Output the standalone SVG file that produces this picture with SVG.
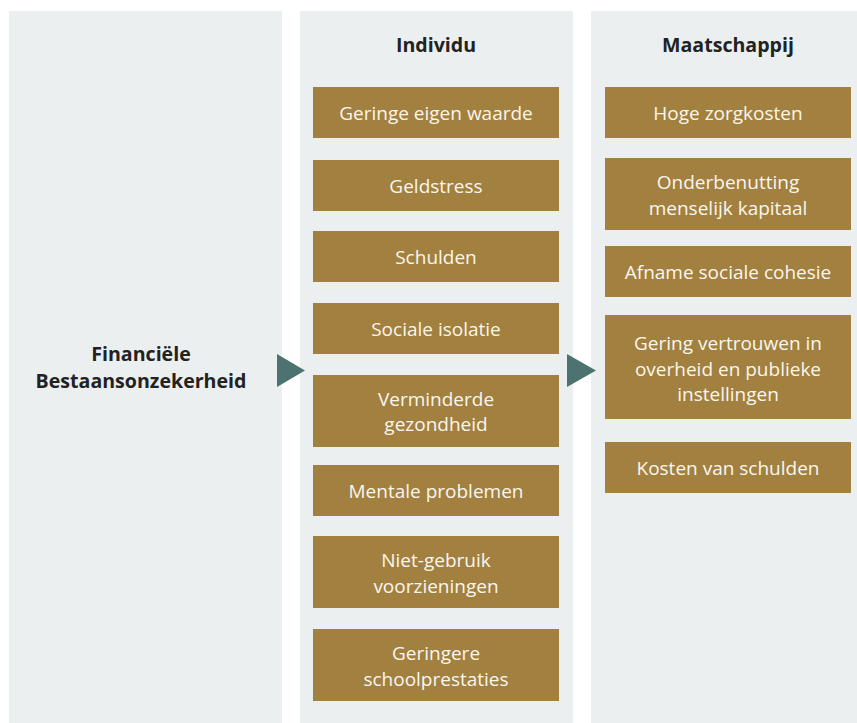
<svg xmlns="http://www.w3.org/2000/svg" width="857" height="723" viewBox="0 0 857 723">
<style>
.panel{fill:#EBEFF0}
.box{fill:#A2803F}
.lbl{font-family:"Open Sans","Noto Sans",sans-serif;font-size:19px;fill:#FAF6EE;text-anchor:middle}
.ttl{font-family:"Open Sans","Noto Sans",sans-serif;font-size:19.6px;font-weight:bold;fill:#222222;text-anchor:middle}
.arrow{fill:#4D7370}
</style>
<rect width="857" height="723" fill="#FFFFFF"/>
<g id="panel-left"><rect class="panel" x="9" y="11" width="273" height="712"/>
<text class="ttl" x="141" y="361">Financiële</text>
<text class="ttl" x="141" y="388">Bestaansonzekerheid</text></g>
<g id="panel-individu"><rect class="panel" x="300" y="11" width="273" height="712"/>
<text class="ttl" x="436" y="52">Individu</text></g>
<g id="panel-maatschappij"><rect class="panel" x="591" y="11" width="266" height="712"/>
<text class="ttl" x="728" y="52">Maatschappij</text></g>
<g id="n1"><rect class="box" x="313" y="87" width="246" height="51"/><text class="lbl" x="436" y="120">Geringe eigen waarde</text></g>
<g id="n2"><rect class="box" x="313" y="160" width="246" height="51"/><text class="lbl" x="436" y="193">Geldstress</text></g>
<g id="n3"><rect class="box" x="313" y="231" width="246" height="51"/><text class="lbl" x="436" y="264">Schulden</text></g>
<g id="n4"><rect class="box" x="313" y="303" width="246" height="51"/><text class="lbl" x="436" y="336">Sociale isolatie</text></g>
<g id="n5"><rect class="box" x="313" y="375" width="246" height="72"/><text class="lbl" x="436" y="406">Verminderde</text><text class="lbl" x="436" y="431">gezondheid</text></g>
<g id="n6"><rect class="box" x="313" y="465" width="246" height="51"/><text class="lbl" x="436" y="498">Mentale problemen</text></g>
<g id="n7"><rect class="box" x="313" y="536" width="246" height="72"/><text class="lbl" x="436" y="567">Niet-gebruik</text><text class="lbl" x="436" y="593">voorzieningen</text></g>
<g id="n8"><rect class="box" x="313" y="629" width="246" height="72"/><text class="lbl" x="436" y="660">Geringere</text><text class="lbl" x="436" y="686">schoolprestaties</text></g>
<g id="m1"><rect class="box" x="605" y="87" width="246" height="51"/><text class="lbl" x="728" y="120">Hoge zorgkosten</text></g>
<g id="m2"><rect class="box" x="605" y="158" width="246" height="72"/><text class="lbl" x="728" y="189">Onderbenutting</text><text class="lbl" x="728" y="215">menselijk kapitaal</text></g>
<g id="m3"><rect class="box" x="605" y="246" width="246" height="51"/><text class="lbl" x="728" y="279">Afname sociale cohesie</text></g>
<g id="m4"><rect class="box" x="605" y="315" width="246" height="104"/><text class="lbl" x="728" y="350">Gering vertrouwen in</text><text class="lbl" x="728" y="376">overheid en publieke</text><text class="lbl" x="728" y="401">instellingen</text></g>
<g id="m5"><rect class="box" x="605" y="442" width="246" height="51"/><text class="lbl" x="728" y="475">Kosten van schulden</text></g>
<g id="connectors">
<polygon class="arrow" points="277,354 305,370.5 277,387"/>
<polygon class="arrow" points="567,354 596,370.5 567,387"/>
</g>
</svg>
